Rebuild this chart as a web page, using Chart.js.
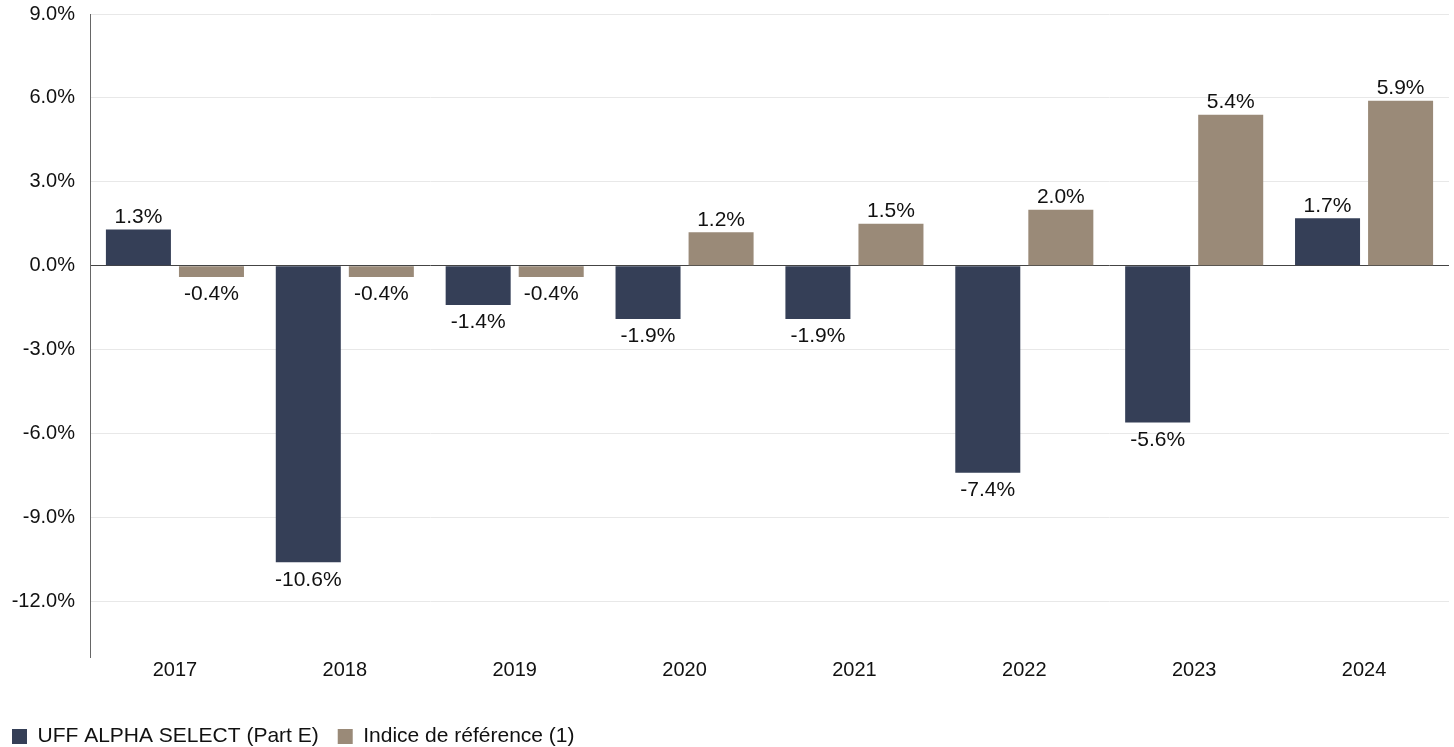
<!DOCTYPE html>
<html>
<head>
<meta charset="utf-8">
<script src="https://cdn.jsdelivr.net/npm/chart.js@4/dist/chart.umd.min.js"></script>
<style>
  html, body { margin: 0; padding: 0; background: #fff; }
  #wrap { width: 1454px; height: 747px; }
</style>
</head>
<body>
<div id="wrap"><canvas id="perfChart"></canvas></div>
<script>
const years = ['2017', '2018', '2019', '2020', '2021', '2022', '2023', '2024'];
const fundValues = [1.3, -10.6, -1.4, -1.9, -1.9, -7.4, -5.6, 1.7];
const benchValues = [-0.4, -0.4, -0.4, 1.2, 1.5, 2.0, 5.4, 5.9];
const yTicks = [-12, -9, -6, -3, 0, 3, 6, 9];
const seriesNames = ['UFF ALPHA SELECT (Part E)', 'Indice de référence (1)'];

const FONT = '"Liberation Sans", Arial, sans-serif';

// draws the value above/below each bar
const barLabels = {
    id: 'barLabels',
    afterDatasetsDraw(chart) {
        const ctx = chart.ctx;
        ctx.save();
        ctx.font = '21px ' + FONT;
        ctx.fillStyle = '#111';
        ctx.textAlign = 'center';
        chart.data.datasets.forEach(function (ds, i) {
            chart.getDatasetMeta(i).data.forEach(function (bar, j) {
                const v = ds.data[j];
                const txt = v.toFixed(1) + '%';
                if (v >= 0) {
                    ctx.textBaseline = 'bottom';
                    ctx.fillText(txt, bar.x, bar.y - 2);
                } else {
                    ctx.textBaseline = 'top';
                    ctx.fillText(txt, bar.x, bar.y + 7);
                }
            });
        });
        ctx.restore();
    }
};

new Chart(document.getElementById('perfChart'), {
    type: 'bar',
    data: {
        labels: years,
        datasets: [
            {
                label: seriesNames[0],
                data: fundValues,
                backgroundColor: '#353f57',
                categoryPercentage: 0.86,
                barPercentage: 0.89,
            },
            {
                label: seriesNames[1],
                data: benchValues,
                backgroundColor: '#9a8a78',
                categoryPercentage: 0.86,
                barPercentage: 0.89,
            },
        ],
    },
    options: {
        responsive: true,
        maintainAspectRatio: false,
        animation: false,
        layout: { padding: { top: 14, right: 5, left: 10.5, bottom: -10 } },
        scales: {
            x: {
                afterFit: function (scale) { scale.height = 67; },
                grid: { display: false, drawTicks: false },
                border: { display: false },
                ticks: { color: '#111', font: { family: FONT, size: 20 }, padding: 1 },
            },
            y: {
                min: -14,
                max: 9,
                afterBuildTicks: function (scale) {
                    scale.ticks = yTicks.map(function (v) { return { value: v }; });
                },
                afterFit: function (scale) {
                    scale.width = 79.5;
                    scale.paddingTop = 0;
                    scale.paddingBottom = 0;
                },
                grid: {
                    drawTicks: false,
                    color: function (c) { return c.tick && c.tick.value === 0 ? '#444' : '#e8e8e8'; },
                },
                border: { display: true, color: '#666' },
                ticks: {
                    color: '#111',
                    padding: 15,
                    font: { family: FONT, size: 20 },
                    callback: function (v) { return Number(v).toFixed(1) + '%'; },
                },
            },
        },
        plugins: {
            legend: {
                position: 'bottom',
                align: 'start',
                labels: {
                    boxWidth: 15,
                    boxHeight: 15,
                    color: '#111',
                    padding: 1.5,
                    font: { family: FONT, size: 21 },
                    // extra gap after each entry, the padding is kept small for the vertical fit
                    generateLabels: function (chart) {
                        const items = Chart.defaults.plugins.legend.labels.generateLabels(chart);
                        items.forEach(function (it) { it.text = it.text + '\u00A0\u00A0\u00A0'; });
                        return items;
                    },
                },
            },
            tooltip: { enabled: false },
        },
    },
    plugins: [barLabels],
});
</script>
</body>
</html>
